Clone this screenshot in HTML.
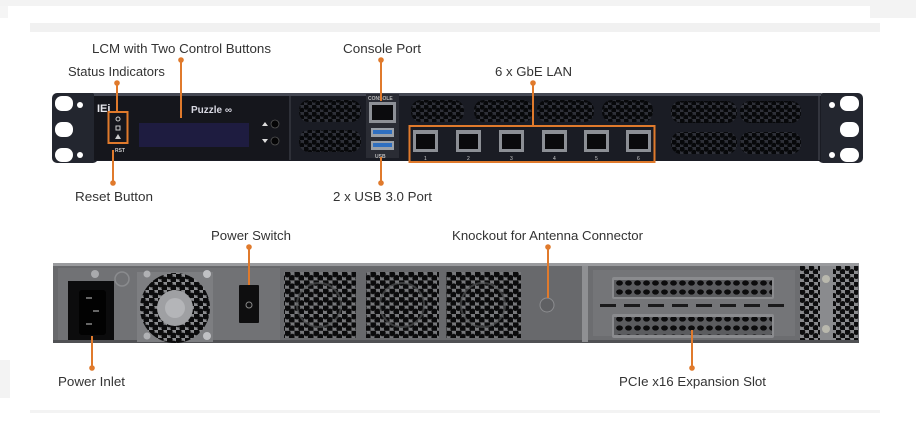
<!DOCTYPE html>
<html><head><meta charset="utf-8"><style>
html,body{margin:0;padding:0;background:#fff;}
svg{display:block;}
text{font-family:"Liberation Sans",Arial,sans-serif;font-size:13px;fill:#333;}
</style></head><body>
<svg width="916" height="442" viewBox="0 0 916 442" xmlns="http://www.w3.org/2000/svg">
<defs>
<pattern id="hexF" width="8" height="7" patternUnits="userSpaceOnUse">
<rect width="8" height="7" fill="#2e3038"/>
<circle cx="2" cy="2" r="2.7" fill="#07080a"/><circle cx="6" cy="5.5" r="2.7" fill="#07080a"/>
</pattern>
<pattern id="hexR" width="9.5" height="8.4" patternUnits="userSpaceOnUse" x="285" y="272">
<rect width="9.5" height="8.4" fill="#77787b"/>
<circle cx="2.4" cy="2.1" r="3.3" fill="#0b0b0c"/><circle cx="7.15" cy="6.3" r="3.3" fill="#0b0b0c"/>
</pattern>
<pattern id="hexS" width="9" height="8" patternUnits="userSpaceOnUse" x="800" y="266">
<rect width="9" height="8" fill="#8a8b8e"/>
<circle cx="2.3" cy="2" r="3" fill="#0d0d0e"/><circle cx="6.8" cy="6" r="3" fill="#0d0d0e"/>
</pattern>
<pattern id="slotH" width="9" height="9" patternUnits="userSpaceOnUse" x="615" y="280">
<rect width="9" height="9" fill="#5b5c5f"/>
<ellipse cx="4.5" cy="3" rx="3.4" ry="2.6" fill="#0c0c0d"/>
</pattern>
<pattern id="fanH" width="9" height="8" patternUnits="userSpaceOnUse" x="140" y="274">
<rect width="9" height="8" fill="#8b8c8f"/>
<circle cx="2.3" cy="2" r="3.4" fill="#0c0c0d"/><circle cx="6.8" cy="6" r="3.4" fill="#0c0c0d"/>
</pattern>
</defs>

<!-- background bands -->
<rect x="0" y="0" width="916" height="6" fill="#f3f3f3"/>
<rect x="870" y="0" width="46" height="18" fill="#f3f3f3"/>
<rect x="0" y="6" width="8" height="12" fill="#f5f5f5"/>
<rect x="30" y="23" width="850" height="9" fill="#f1f1f1"/>
<rect x="0" y="360" width="10" height="38" fill="#f3f3f3"/>
<rect x="30" y="410" width="850" height="3" fill="#f3f3f3"/>

<!-- ========== FRONT PANEL ========== -->
<rect x="52" y="93" width="46" height="70" rx="5" fill="#23262f"/>
<rect x="818" y="93" width="45" height="70" rx="5" fill="#23262f"/>
<rect x="55" y="96" width="18" height="15" rx="7" fill="#fff"/>
<rect x="55" y="122" width="18" height="15" rx="7" fill="#fff"/>
<rect x="55" y="148" width="18" height="14" rx="7" fill="#fff"/>
<circle cx="80" cy="105" r="3" fill="#fff"/><circle cx="80" cy="155" r="3" fill="#fff"/>
<rect x="840" y="96" width="19" height="15" rx="7" fill="#fff"/>
<rect x="840" y="122" width="19" height="15" rx="7" fill="#fff"/>
<rect x="840" y="148" width="19" height="14" rx="7" fill="#fff"/>
<circle cx="832" cy="105" r="3" fill="#fff"/><circle cx="832" cy="155" r="3" fill="#fff"/>
<rect x="94" y="93" width="727" height="68" fill="#1a1c24"/>
<rect x="94" y="93" width="727" height="3" fill="#454853"/>
<rect x="94" y="96" width="196" height="64" fill="#15161c"/>
<rect x="289" y="96" width="2" height="64" fill="#2e3038"/>
<rect x="818" y="96" width="2" height="64" fill="#33353e"/>
<text x="97" y="112" style="font-size:11px;font-weight:bold;fill:#e8e8ee">IEi</text>
<text x="191" y="113" style="font-size:10px;font-weight:bold;fill:#d8d8e2">Puzzle ∞</text>
<rect x="139" y="123" width="110" height="24" fill="#1e1c40"/>
<circle cx="118" cy="119" r="2" fill="none" stroke="#ccc" stroke-width="1"/>
<rect x="116" y="126" width="4" height="4" fill="none" stroke="#ccc" stroke-width="1"/>
<path d="M115 139 L118 134 L121 139 Z" fill="#ccc"/>
<text x="115" y="152" style="font-size:5px;font-weight:bold;fill:#ccc">RST</text>
<path d="M262 126 L265 122 L268 126 Z" fill="#ddd"/>
<circle cx="275" cy="124" r="4" fill="#050506" stroke="#555" stroke-width="0.8"/>
<path d="M262 139 L265 143 L268 139 Z" fill="#ddd"/>
<circle cx="275" cy="141" r="4" fill="#050506" stroke="#555" stroke-width="0.8"/>
<rect x="299" y="100" width="62" height="22" rx="10" fill="url(#hexF)"/>
<rect x="299" y="130" width="62" height="22" rx="10" fill="url(#hexF)"/>
<rect x="411" y="100" width="53" height="22" rx="10" fill="url(#hexF)"/>
<rect x="474" y="100" width="59" height="22" rx="10" fill="url(#hexF)"/>
<rect x="537" y="100" width="57" height="22" rx="10" fill="url(#hexF)"/>
<rect x="602" y="100" width="51" height="22" rx="10" fill="url(#hexF)"/>
<rect x="671" y="101" width="66" height="22" rx="10" fill="url(#hexF)"/>
<rect x="740" y="101" width="61" height="22" rx="10" fill="url(#hexF)"/>
<rect x="671" y="132" width="66" height="22" rx="10" fill="url(#hexF)"/>
<rect x="740" y="132" width="61" height="22" rx="10" fill="url(#hexF)"/>
<rect x="366" y="94" width="33" height="64" fill="#2a2c34"/>
<text x="368" y="100" style="font-size:5px;font-weight:bold;fill:#bbb">CONSOLE</text>
<rect x="369" y="102" width="27" height="21" fill="#8d9096"/>
<rect x="372" y="105" width="21" height="15" fill="#0b0b0d"/>
<rect x="371" y="128" width="23" height="9" fill="#9aa0a8"/>
<rect x="373" y="130" width="19" height="4" fill="#2f6fc0"/>
<rect x="371" y="141" width="23" height="9" fill="#9aa0a8"/>
<rect x="373" y="143" width="19" height="4" fill="#2f6fc0"/>
<text x="375" y="158" style="font-size:5px;font-weight:bold;fill:#bbb">USB</text>
<g fill="#8c8f95">
<rect x="413" y="130" width="25" height="22"/><rect x="456" y="130" width="25" height="22"/>
<rect x="499" y="130" width="25" height="22"/><rect x="542" y="130" width="25" height="22"/>
<rect x="584" y="130" width="25" height="22"/><rect x="626" y="130" width="25" height="22"/>
</g>
<g fill="#0a0a0c">
<rect x="416" y="134" width="19" height="15"/><rect x="459" y="134" width="19" height="15"/>
<rect x="502" y="134" width="19" height="15"/><rect x="545" y="134" width="19" height="15"/>
<rect x="587" y="134" width="19" height="15"/><rect x="629" y="134" width="19" height="15"/>
</g>
<text x="424" y="160" style="font-size:5px;fill:#ccc">1</text><text x="467" y="160" style="font-size:5px;fill:#ccc">2</text>
<text x="510" y="160" style="font-size:5px;fill:#ccc">3</text><text x="553" y="160" style="font-size:5px;fill:#ccc">4</text>
<text x="595" y="160" style="font-size:5px;fill:#ccc">5</text><text x="637" y="160" style="font-size:5px;fill:#ccc">6</text>
<rect x="409.5" y="126" width="245" height="36" fill="none" stroke="#e07a2c" stroke-width="2"/>
<rect x="108.5" y="112" width="19" height="31" fill="none" stroke="#e07a2c" stroke-width="2"/>

<!-- ========== REAR PANEL ========== -->
<rect x="53" y="263" width="806" height="80" fill="#68696c"/>
<rect x="53" y="263" width="806" height="3" fill="#9a9b9e"/>
<rect x="53" y="340" width="806" height="3" fill="#505154"/>
<rect x="58" y="268" width="222" height="72" fill="#717275"/>
<rect x="68" y="281" width="46" height="59" fill="#0c0c0d"/>
<rect x="79" y="290" width="27" height="45" rx="3" fill="#020202"/>
<rect x="86" y="297" width="6" height="2" fill="#666"/><rect x="93" y="310" width="6" height="2" fill="#666"/><rect x="86" y="323" width="6" height="2" fill="#666"/>
<circle cx="95" cy="274" r="4" fill="#a9aaad"/>
<circle cx="122" cy="279" r="7" fill="none" stroke="#8a8b8e" stroke-width="1.5"/>
<rect x="137" y="272" width="76" height="70" fill="#7d7e81"/>
<circle cx="175" cy="308" r="35" fill="url(#fanH)"/>
<circle cx="175" cy="308" r="18" fill="#9fa0a3"/>
<circle cx="175" cy="308" r="10" fill="#b4b5b8"/>
<circle cx="147" cy="274" r="3.5" fill="#b0b1b4"/><circle cx="207" cy="274" r="4" fill="#c0c1c4"/>
<circle cx="147" cy="336" r="3.5" fill="#b0b1b4"/><circle cx="207" cy="336" r="4" fill="#c0c1c4"/>
<rect x="239" y="285" width="20" height="38" rx="1" fill="#0e0e0f"/>
<circle cx="249" cy="305" r="3" fill="none" stroke="#888" stroke-width="1"/>
<rect x="284" y="272" width="72" height="66" fill="url(#hexR)"/>
<rect x="366" y="272" width="73" height="66" fill="url(#hexR)"/>
<rect x="446" y="272" width="75" height="66" fill="url(#hexR)"/>
<circle cx="319" cy="305" r="22" fill="none" stroke="#5a5b5e" stroke-width="2" opacity="0.6"/>
<circle cx="402" cy="305" r="22" fill="none" stroke="#5a5b5e" stroke-width="2" opacity="0.6"/>
<circle cx="483" cy="305" r="22" fill="none" stroke="#5a5b5e" stroke-width="2" opacity="0.6"/>
<circle cx="547" cy="305" r="7" fill="#5f6063" stroke="#8c8d90" stroke-width="1"/>
<rect x="582" y="266" width="6" height="76" fill="#8f9093"/>
<rect x="588" y="266" width="212" height="74" fill="#6c6d70"/>
<rect x="593" y="270" width="202" height="66" fill="#747578"/>
<rect x="612" y="277" width="162" height="22" rx="2" fill="#8a8b8e"/>
<rect x="614" y="280" width="158" height="17" fill="url(#slotH)"/>
<rect x="612" y="314" width="162" height="24" rx="2" fill="#8a8b8e"/>
<rect x="614" y="317" width="158" height="18" fill="url(#slotH)"/>
<g fill="#1a1a1b">
<rect x="600" y="304" width="16" height="3"/><rect x="624" y="304" width="16" height="3"/><rect x="648" y="304" width="16" height="3"/>
<rect x="672" y="304" width="16" height="3"/><rect x="696" y="304" width="16" height="3"/><rect x="720" y="304" width="16" height="3"/>
<rect x="744" y="304" width="16" height="3"/><rect x="768" y="304" width="16" height="3"/>
</g>
<rect x="800" y="266" width="58" height="74" fill="url(#hexS)"/>
<rect x="820" y="266" width="13" height="74" fill="#8a8b8e"/>
<circle cx="826" cy="279" r="4" fill="#b9b8ad"/>
<circle cx="826" cy="329" r="4" fill="#b9b8ad"/>

<!-- ========== LEADERS ========== -->
<g stroke="#e07a2c" stroke-width="2" fill="none">
<line x1="181" y1="60" x2="181" y2="118"/>
<line x1="381" y1="60" x2="381" y2="101"/>
<line x1="117" y1="83" x2="117" y2="112"/>
<line x1="533" y1="83" x2="533" y2="126"/>
<line x1="113" y1="150" x2="113" y2="183"/>
<line x1="381" y1="157" x2="381" y2="183"/>
<line x1="249" y1="247" x2="249" y2="285"/>
<line x1="548" y1="247" x2="548" y2="298"/>
<line x1="92" y1="336" x2="92" y2="368"/>
<line x1="692" y1="330" x2="692" y2="368"/>
</g>
<g fill="#e07a2c">
<circle cx="181" cy="60" r="2.8"/><circle cx="381" cy="60" r="2.8"/>
<circle cx="117" cy="83" r="2.8"/><circle cx="533" cy="83" r="2.8"/>
<circle cx="113" cy="183" r="2.8"/><circle cx="381" cy="183" r="2.8"/>
<circle cx="249" cy="247" r="2.8"/><circle cx="548" cy="247" r="2.8"/>
<circle cx="92" cy="368" r="2.8"/><circle cx="692" cy="368" r="2.8"/>
</g>

<!-- ========== LABELS ========== -->
<text x="92" y="53" textLength="179" lengthAdjust="spacingAndGlyphs">LCM with Two Control Buttons</text>
<text x="343" y="53" textLength="78" lengthAdjust="spacingAndGlyphs">Console Port</text>
<text x="68" y="76">Status Indicators</text>
<text x="495" y="76" textLength="77" lengthAdjust="spacingAndGlyphs">6 x GbE LAN</text>
<text x="75" y="201" textLength="78" lengthAdjust="spacingAndGlyphs">Reset Button</text>
<text x="333" y="201" textLength="99" lengthAdjust="spacingAndGlyphs">2 x USB 3.0 Port</text>
<text x="211" y="240" textLength="80" lengthAdjust="spacingAndGlyphs">Power Switch</text>
<text x="452" y="240" textLength="191" lengthAdjust="spacingAndGlyphs">Knockout for Antenna Connector</text>
<text x="58" y="386" textLength="67" lengthAdjust="spacingAndGlyphs">Power Inlet</text>
<text x="619" y="386" textLength="147" lengthAdjust="spacingAndGlyphs">PCIe x16 Expansion Slot</text>
</svg>
</body></html>
